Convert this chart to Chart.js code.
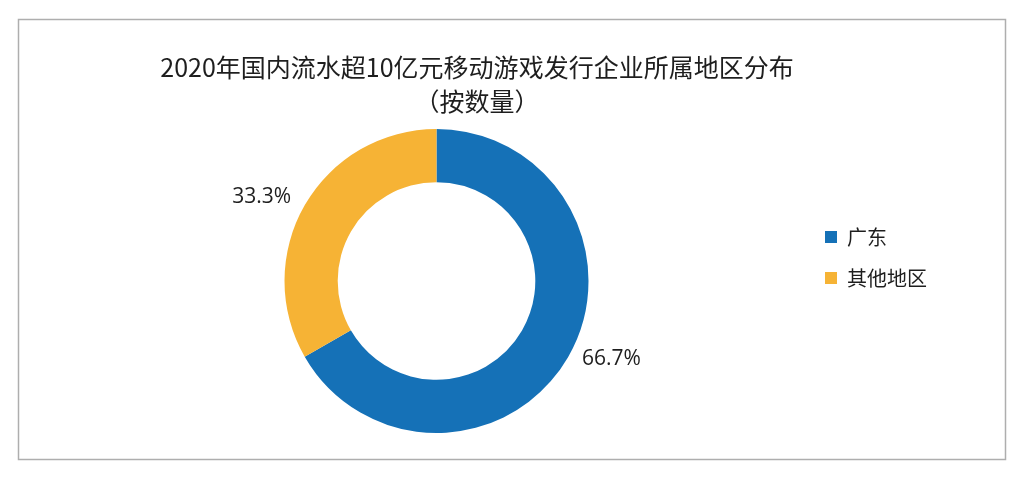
<!DOCTYPE html>
<html>
<head>
<meta charset="utf-8">
<script src="https://cdn.jsdelivr.net/npm/chart.js@4/dist/chart.umd.min.js"></script>
<style>
  html, body { margin: 0; padding: 0; background: #fff; }
  #wrap { position: relative; width: 1024px; height: 480px; }
</style>
</head>
<body>
<div id="wrap"><canvas id="region"></canvas></div>
<script>
// data
var regions = ['广东', '其他地区'];
var shares = [66.7, 33.3];
var colors = ['#1571b7', '#f6b335'];
var titleLines = ['2020年国内流水超10亿元移动游戏发行企业所属地区分布', '（按数量）'];

// grey frame round the chart
var frame = {
    id: 'frame',
    beforeDraw: function(chart) {
        var c = chart.ctx;
        c.save();
        c.fillStyle = '#fff';
        c.fillRect(0, 0, chart.width, chart.height);
        c.strokeStyle = '#aeaeae';
        c.lineWidth = 1.5;
        c.strokeRect(18.5, 19.5, 987, 440);
        c.restore();
    }
};

// ring sits left of the title centre, so pull the plot area in from the left
var ringShift = {
    id: 'ringShift',
    afterLayout: function(chart) {
        chart.chartArea.left += 52;
        chart.chartArea.width = chart.chartArea.right - chart.chartArea.left;
    }
};

// percent labels outside the ring
var outLabels = {
    id: 'outLabels',
    afterDatasetsDraw: function(chart) {
        var c = chart.ctx;
        var meta = chart.getDatasetMeta(0);
        c.save();
        c.font = '21px "Open Sans", sans-serif';
        c.fillStyle = '#1e1e1e';
        c.textBaseline = 'middle';
        meta.data.forEach(function(arc, i) {
            var mid = (arc.startAngle + arc.endAngle) / 2;
            var r = arc.outerRadius + 16;
            var x = arc.x + Math.cos(mid) * r;
            var y = arc.y + Math.sin(mid) * (r - 6) - 3;
            c.textAlign = Math.cos(mid) >= 0 ? 'left' : 'right';
            c.fillText(shares[i].toFixed(1) + '%', x, y);
        });
        c.restore();
    }
};

var ctx = document.getElementById('region').getContext('2d');
var chart = new Chart(ctx, {
    type: 'doughnut',
    data: {
        labels: regions,
        datasets: [{
            data: shares,
            backgroundColor: colors,
            borderWidth: 0,
            hoverOffset: 0
        }]
    },
    options: {
        responsive: true,
        maintainAspectRatio: false,
        animation: false,
        cutout: '65%',
        layout: {
            padding: { left: 17, right: 87, top: 0, bottom: 47 }
        },
        plugins: {
            title: {
                display: true,
                text: titleLines,
                color: '#1e1e1e',
                font: { family: '"Noto Sans CJK SC", sans-serif', size: 25, weight: 'normal', lineHeight: 1.36 },
                padding: { top: 50, bottom: 11 }
            },
            legend: {
                position: 'right',
                align: 'start',
                fullSize: false,
                title: {
                    display: true,
                    text: '',
                    font: { size: 20, lineHeight: 1 },
                    padding: { top: 57, bottom: 0 }
                },
                labels: {
                    boxWidth: 12,
                    boxHeight: 12,
                    padding: 21,
                    color: '#1e1e1e',
                    font: { family: '"Noto Sans CJK SC", sans-serif', size: 20 }
                }
            },
            tooltip: { enabled: false }
        }
    },
    plugins: [frame, ringShift, outLabels]
});
</script>
</body>
</html>
